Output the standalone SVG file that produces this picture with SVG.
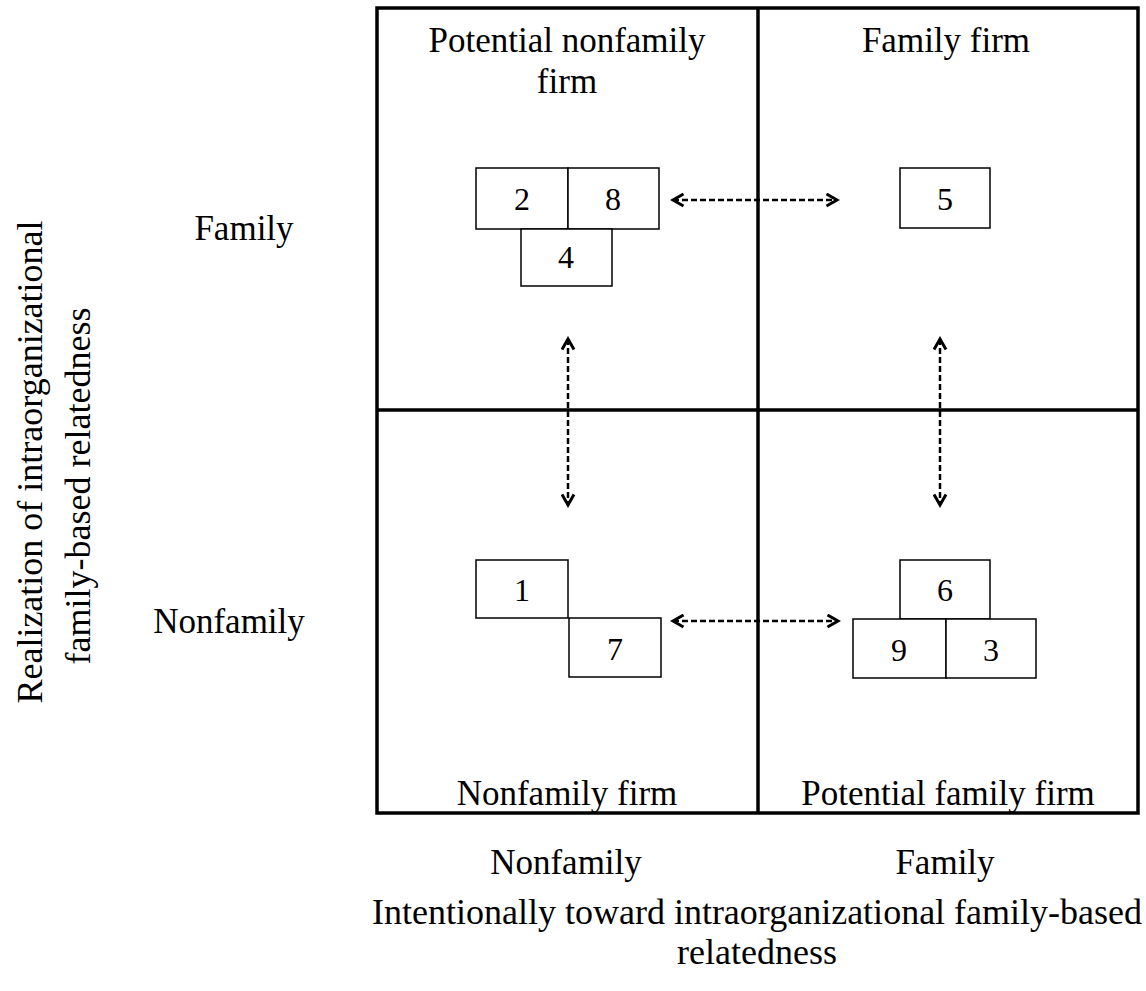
<svg xmlns="http://www.w3.org/2000/svg" width="1146" height="991" viewBox="0 0 1146 991">
<defs>
<marker id="ah" viewBox="0 0 10 10" refX="8" refY="5" markerWidth="6" markerHeight="6" orient="auto-start-reverse" markerUnits="strokeWidth">
<path d="M1,1 L8,5 L1,9" fill="none" stroke="#000" stroke-width="2"/>
</marker>
<style>
text{font-family:"Liberation Serif","Times New Roman",serif;font-size:35px;fill:#000;text-anchor:middle}
text.num{font-size:32px}
text.big{font-size:36px}
.box{fill:#fff;stroke:#000;stroke-width:1.5}
.frame{fill:none;stroke:#000;stroke-width:3.5}
.conn{stroke:#000;stroke-width:2.5;stroke-dasharray:6 3;fill:none;marker-start:url(#ah);marker-end:url(#ah)}
</style>
</defs>
<rect fill="#fff" width="1146" height="991"/>
<g id="frame">
<rect class="frame" x="377" y="8" width="761" height="805"/>
<line class="frame" x1="758" y1="8" x2="758" y2="813"/>
<line class="frame" x1="377" y1="410" x2="1138" y2="410"/>
</g>
<g id="quadrant-labels">
<text x="567" y="52">Potential nonfamily</text>
<text x="567" y="93">firm</text>
<text x="946" y="52">Family firm</text>
<text x="567" y="805">Nonfamily firm</text>
<text x="948" y="805">Potential family firm</text>
</g>
<g id="axis-labels">
<text x="244" y="240">Family</text>
<text x="229" y="633">Nonfamily</text>
<text x="566" y="874">Nonfamily</text>
<text x="945" y="874">Family</text>
<text class="big" x="757" y="924">Intentionally toward intraorganizational family-based</text>
<text class="big" x="757" y="964">relatedness</text>
<text class="big" transform="translate(42,462) rotate(-90)">Realization of intraorganizational</text>
<text class="big" transform="translate(90,486) rotate(-90)">family-based relatedness</text>
</g>
<g id="connectors">
<line class="conn" x1="673" y1="200" x2="837" y2="200"/>
<line class="conn" x1="673" y1="621" x2="838" y2="621"/>
<line class="conn" x1="568" y1="339" x2="568" y2="505"/>
<line class="conn" x1="940" y1="339" x2="940" y2="505"/>
</g>
<g id="node-2"><rect class="box" x="476" y="168" width="92" height="61"/><text class="num" x="522" y="210">2</text></g>
<g id="node-8"><rect class="box" x="568" y="168" width="91" height="61"/><text class="num" x="613" y="210">8</text></g>
<g id="node-4"><rect class="box" x="521" y="229" width="91" height="57"/><text class="num" x="566" y="268">4</text></g>
<g id="node-5"><rect class="box" x="900" y="168" width="90" height="60"/><text class="num" x="945" y="210">5</text></g>
<g id="node-1"><rect class="box" x="476" y="560" width="92" height="58"/><text class="num" x="522" y="601">1</text></g>
<g id="node-7"><rect class="box" x="569" y="618" width="92" height="59"/><text class="num" x="615" y="660">7</text></g>
<g id="node-6"><rect class="box" x="900" y="560" width="90" height="59"/><text class="num" x="945" y="601">6</text></g>
<g id="node-9"><rect class="box" x="853" y="619" width="93" height="59"/><text class="num" x="899" y="661">9</text></g>
<g id="node-3"><rect class="box" x="946" y="619" width="90" height="59"/><text class="num" x="991" y="661">3</text></g>
</svg>
